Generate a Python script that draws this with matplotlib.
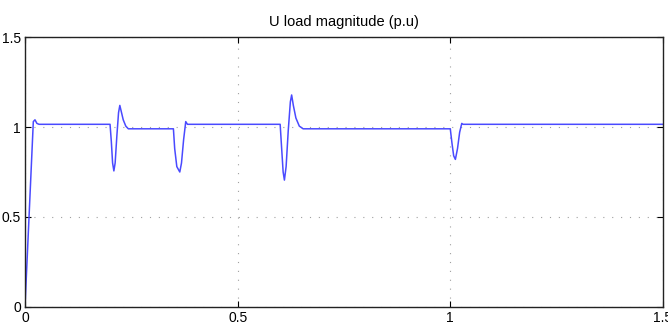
import matplotlib.pyplot as plt

plt.rcParams['font.family'] = ['Liberation Sans Narrow', 'Liberation Sans', 'DejaVu Sans']

# time (s) and load voltage magnitude (p.u)
t = [0, 0.0196, 0.0235, 0.028, 0.033, 0.2, 0.203, 0.206, 0.209, 0.212, 0.216,
     0.22, 0.223, 0.226, 0.231, 0.237, 0.243, 0.349, 0.352, 0.357, 0.364,
     0.368, 0.373, 0.378, 0.382,
     0.6, 0.603, 0.607, 0.61, 0.614, 0.619, 0.624, 0.627, 0.631, 0.637,
     0.645, 0.654,
     1.0, 1.004, 1.008, 1.012, 1.017, 1.022, 1.027, 1.03, 1.5]
u = [0, 1.03, 1.04, 1.02, 1.015, 1.015, 0.92, 0.8, 0.756, 0.8, 0.95,
     1.08, 1.12, 1.09, 1.04, 1.005, 0.99, 0.99, 0.88, 0.78, 0.75,
     0.8, 0.93, 1.03, 1.015,
     1.015, 0.9, 0.75, 0.705, 0.78, 0.98, 1.14, 1.178, 1.12, 1.05,
     1.005, 0.99,
     0.99, 0.91, 0.84, 0.82, 0.88, 0.97, 1.02, 1.015, 1.015]

ticks = [0, 0.5, 1, 1.5]
tick_labels = ['0', '0.5', '1', '1.5']

fig = plt.figure(figsize=(6.68, 3.29), dpi=100)
ax = fig.add_axes([0.0374, 0.0669, 0.955, 0.8206])
ax.plot(t, u, color='#4a4aff', lw=1.1)
ax.set_xlim(0, 1.5)
ax.set_ylim(0, 1.5)
ax.set_xticks(ticks)
ax.set_xticklabels(tick_labels)
ax.set_yticks(ticks)
ax.set_yticklabels(tick_labels)
ax.grid(True, color='#a0a0a0', linestyle=(0, (1, 7)), lw=0.8)
ax.tick_params(direction='in', top=True, right=True, length=4, labelsize=10, pad=3)
for s in ax.spines.values():
    s.set_color('#222222')
    s.set_linewidth(1.0)
ax.set_title('U load magnitude (p.u)', fontsize=10.5, pad=8)
fig.savefig('out.png', dpi=100)
plt.close('all')
